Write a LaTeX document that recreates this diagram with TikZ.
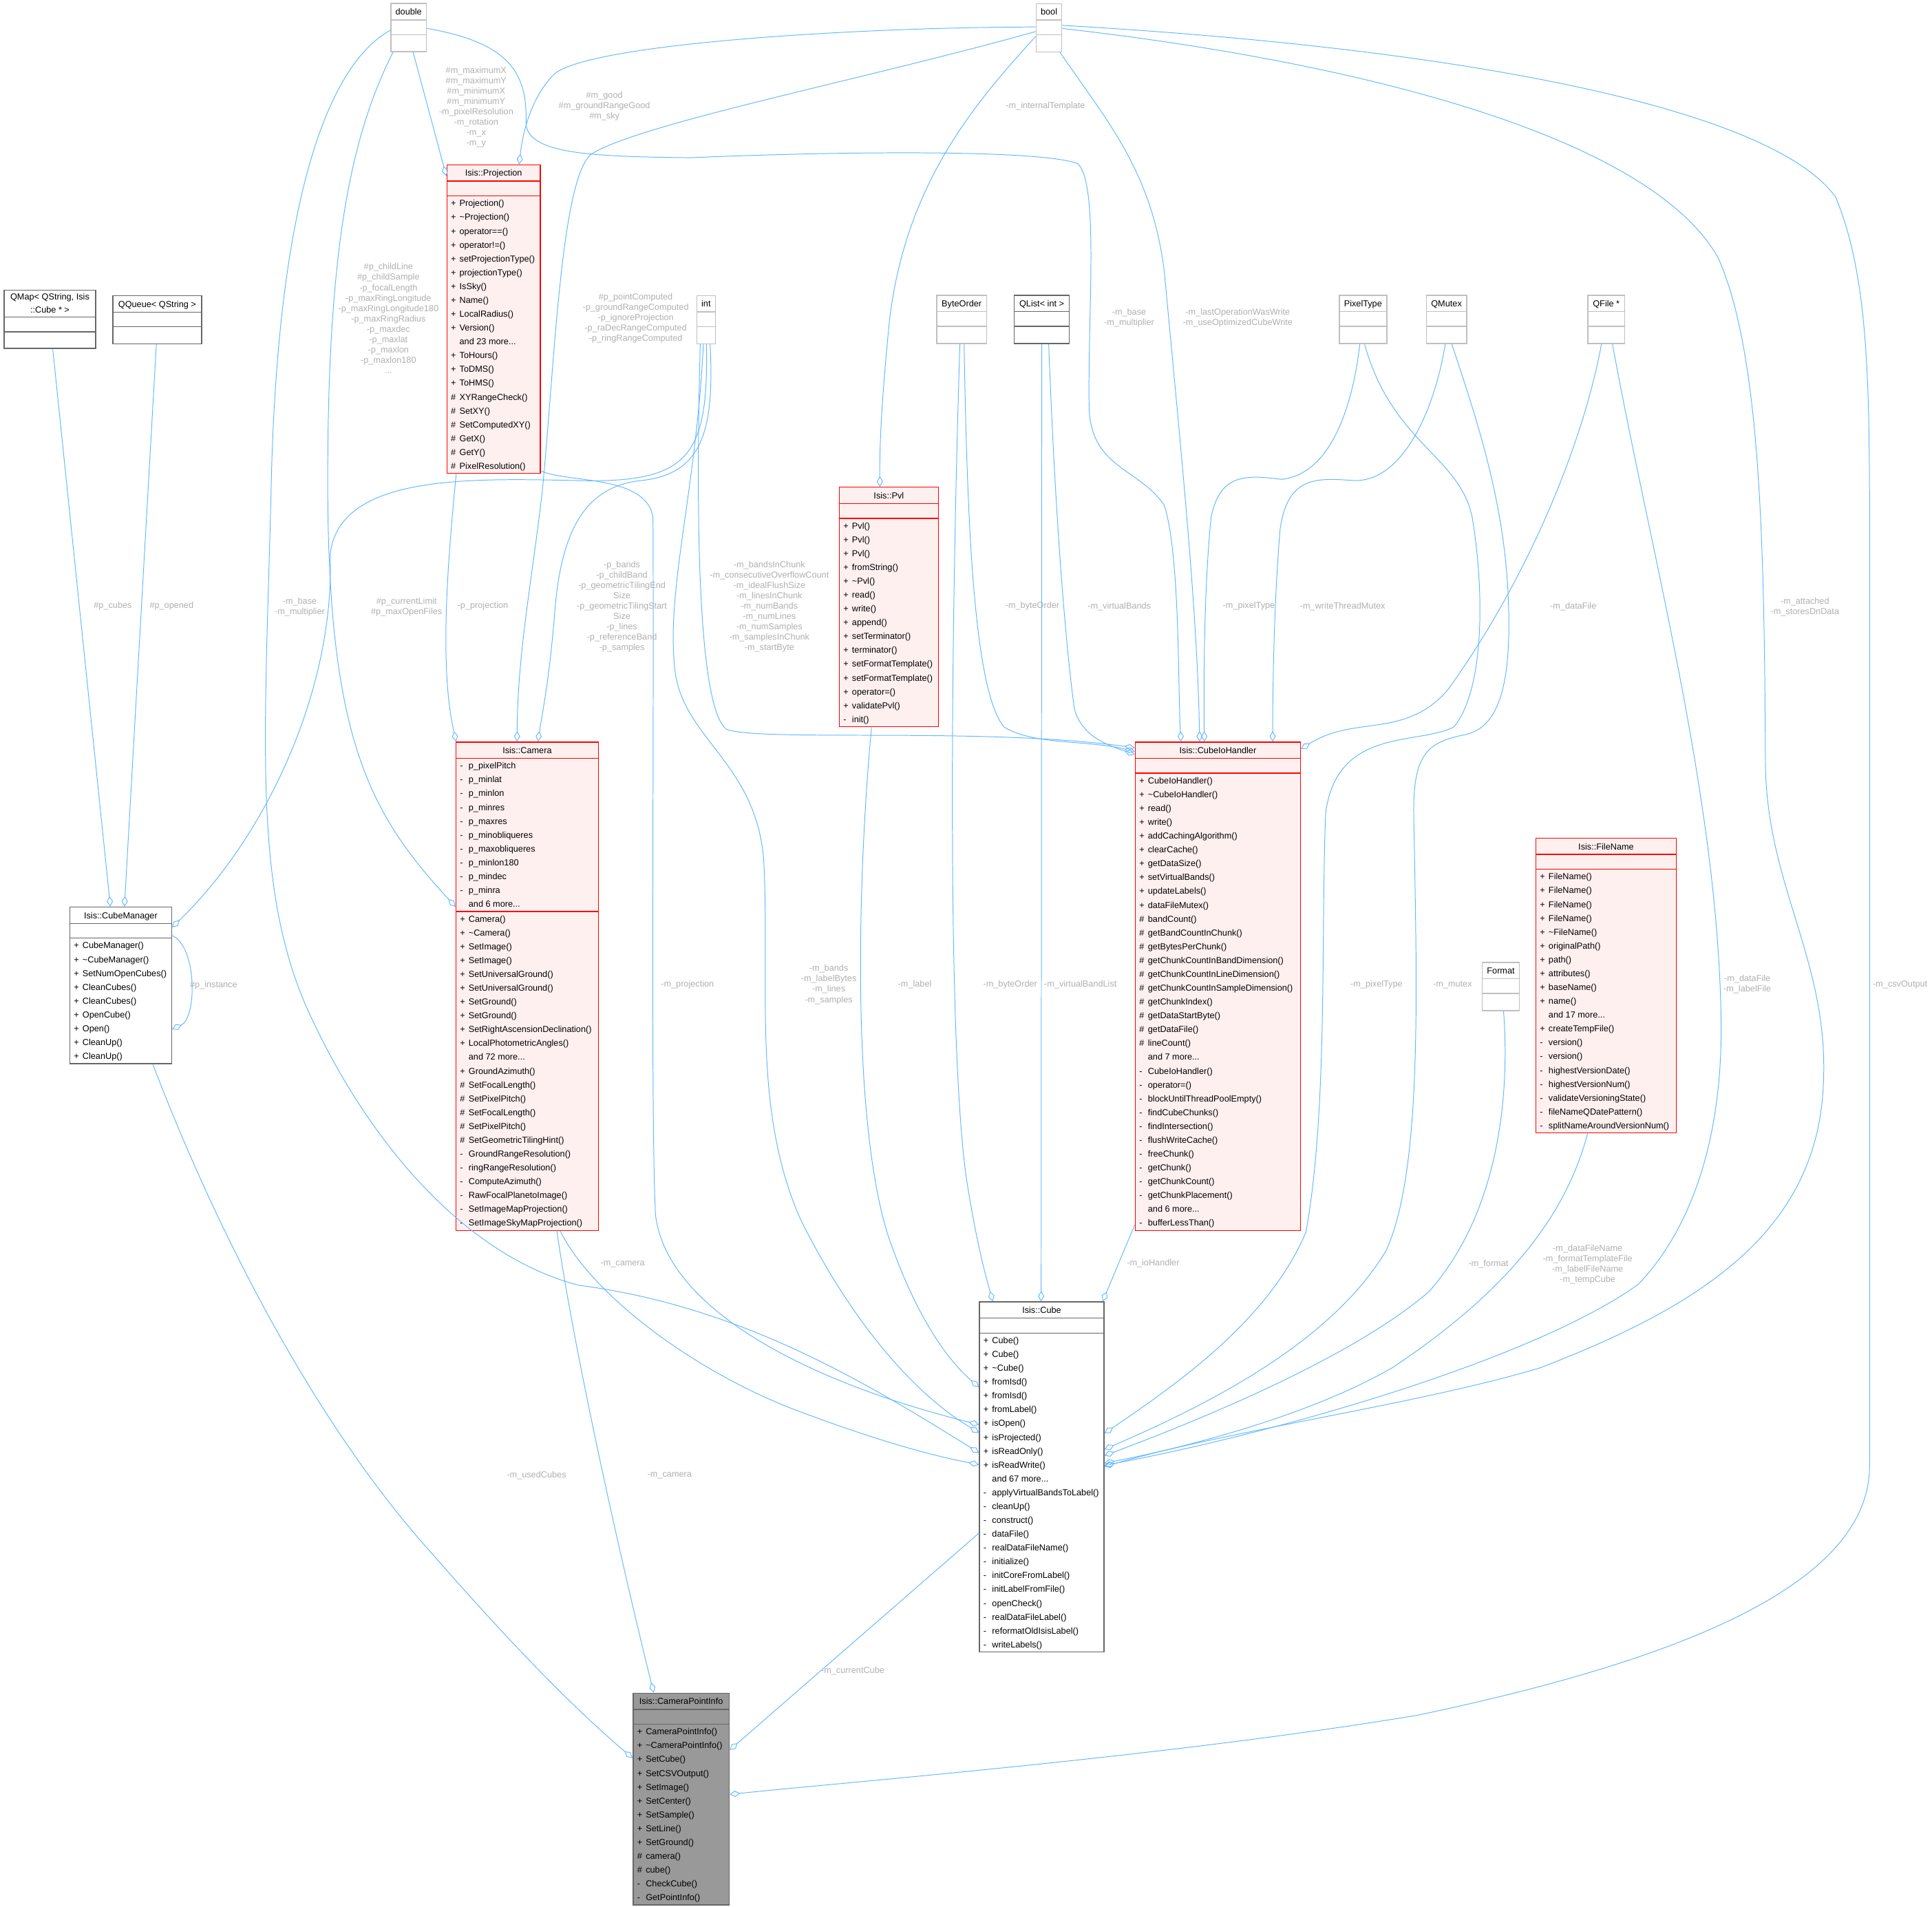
\documentclass[tikz,border=0pt]{standalone}
\usepackage{fontspec}
\setmainfont{Liberation Sans}
\usetikzlibrary{shapes.multipart,arrows.meta,calc}
\hfuzz=20pt
\definecolor{edgeblue}{HTML}{63B8FF}
\definecolor{lblgray}{HTML}{B0B0B0}
\definecolor{clsfill}{HTML}{FFF0F0}
\definecolor{grayforty}{HTML}{666666}
\definecolor{greyseventyfive}{HTML}{BFBFBF}
\definecolor{cpifill}{HTML}{999999}
\newcommand\rs{\rule[-3.12pt]{0pt}{11.22pt}}
\newcommand\ttl[1]{\rule[-3.6pt]{0pt}{12.4pt}#1}
\newcommand\mm[2]{\hbox{\rs\makebox[7pt][l]{#1}#2}}
\newcommand\ml[1]{\vbox{\offinterlineskip#1}}
\newcommand\lastrow{\rule[-4pt]{0pt}{13pt}}
\tikzset{
  cls/.style={rectangle split, rectangle split parts=3,
    rectangle split part align={center,left,left},
    draw=red, fill=clsfill, line width=0.8pt, inner xsep=3.3pt, inner ysep=0pt,
    font=\fontsize{7.1}{11.22}\selectfont, anchor=north west},
  extcls/.style={cls, draw=grayforty, fill=white},
  basic/.style={cls, draw=greyseventyfive, fill=white},
  cpicls/.style={cls, draw=grayforty, fill=cpifill},
  assoc/.style={draw=edgeblue, line width=0.55pt, -{Diamond[open,length=8.5pt,width=5pt]}},
  lbl/.style={text=lblgray, font=\fontsize{7.1}{8.4}\selectfont, align=center, inner sep=0pt}
}
\begin{document}
\begin{tikzpicture}[x=1pt,y=-1pt]
\path[use as bounding box, fill=white] (0,0) rectangle (1568.2,1547.5);

\node[basic, minimum width=28.6pt] (dbl) at (317,2.5) {\ttl{double}\nodepart{second}\rs\nodepart{third}\lastrow};
\node[basic, minimum width=20.9pt] (boolT) at (840.6,2.6) {\ttl{bool}\nodepart{second}\rs\nodepart{third}\lastrow};
\node[basic, minimum width=15.2pt] (intT) at (565.1,239.5) {\ttl{int}\nodepart{second}\rs\nodepart{third}\lastrow};
\node[basic, minimum width=40.3pt] (byteorder) at (760,239.3) {\ttl{ByteOrder}\nodepart{second}\rs\nodepart{third}\lastrow};
\node[extcls, minimum width=44.6pt] (qlist) at (822.9,239.3) {\ttl{QList< int >}\nodepart{second}\rs\nodepart{third}\lastrow};
\node[basic, minimum width=38.5pt] (pixeltype) at (1086.7,239.3) {\ttl{PixelType}\nodepart{second}\rs\nodepart{third}\lastrow};
\node[basic, minimum width=32.6pt] (qmutex) at (1157.4,239.3) {\ttl{QMutex}\nodepart{second}\rs\nodepart{third}\lastrow};
\node[basic, minimum width=30pt] (qfile) at (1288.4,239.3) {\ttl{QFile *}\nodepart{second}\rs\nodepart{third}\lastrow};
\node[basic, minimum width=30.2pt] (format) at (1202.7,780.6) {\ttl{Format}\nodepart{second}\rs\nodepart{third}\lastrow};
\node[extcls, minimum width=74.4pt] (qmap) at (2.9,235) {{\def\arraystretch{0.936}\begin{tabular}{@{}c@{}}QMap< QString, Isis\\::Cube * >\end{tabular}}\nodepart{second}\rs\nodepart{third}\rule[-4pt]{0pt}{12.6pt}};
\node[extcls, minimum width=72pt] (qqueue) at (91.2,239.6) {\ttl{QQueue< QString >}\nodepart{second}\rs\nodepart{third}\lastrow};

\node[cls, minimum width=75.9pt] (proj) at (362.3,133.4) {\ttl{Isis::Projection}\nodepart{second}\rs\nodepart{third}\ml{%
\mm{+}{Projection()}\mm{+}{\textasciitilde{}Projection()}\mm{+}{operator==()}\mm{+}{operator!=()}%
\mm{+}{setProjectionType()}\mm{+}{projectionType()}\mm{+}{IsSky()}\mm{+}{Name()}%
\mm{+}{LocalRadius()}\mm{+}{Version()}\mm{}{and 23 more...}\mm{+}{ToHours()}%
\mm{+}{ToDMS()}\mm{+}{ToHMS()}\mm{\#}{XYRangeCheck()}\mm{\#}{SetXY()}%
\mm{\#}{SetComputedXY()}\mm{\#}{GetX()}\mm{\#}{GetY()}\mm{\#}{PixelResolution()}}};

\node[cls, minimum width=115.6pt] (camera) at (369.7,601.8) {\ttl{Isis::Camera}\nodepart{second}\ml{%
\mm{-}{p\_pixelPitch}\mm{-}{p\_minlat}\mm{-}{p\_minlon}\mm{-}{p\_minres}\mm{-}{p\_maxres}%
\mm{-}{p\_minobliqueres}\mm{-}{p\_maxobliqueres}\mm{-}{p\_minlon180}\mm{-}{p\_mindec}%
\mm{-}{p\_minra}\mm{}{and 6 more...}}\nodepart{third}\ml{%
\mm{+}{Camera()}\mm{+}{\textasciitilde{}Camera()}\mm{+}{SetImage()}\mm{+}{SetImage()}%
\mm{+}{SetUniversalGround()}\mm{+}{SetUniversalGround()}\mm{+}{SetGround()}\mm{+}{SetGround()}%
\mm{+}{SetRightAscensionDeclination()}\mm{+}{LocalPhotometricAngles()}\mm{}{and 72 more...}%
\mm{+}{GroundAzimuth()}\mm{\#}{SetFocalLength()}\mm{\#}{SetPixelPitch()}\mm{\#}{SetFocalLength()}%
\mm{\#}{SetPixelPitch()}\mm{\#}{SetGeometricTilingHint()}\mm{-}{GroundRangeResolution()}%
\mm{-}{ringRangeResolution()}\mm{-}{ComputeAzimuth()}\mm{-}{RawFocalPlanetoImage()}%
\mm{-}{SetImageMapProjection()}\mm{-}{SetImageSkyMapProjection()}}};

\node[extcls, minimum width=82.6pt] (cubemgr) at (56.3,735.7) {\ttl{Isis::CubeManager}\nodepart{second}\rs\nodepart{third}\ml{%
\mm{+}{CubeManager()}\mm{+}{\textasciitilde{}CubeManager()}\mm{+}{SetNumOpenCubes()}\mm{+}{CleanCubes()}%
\mm{+}{CleanCubes()}\mm{+}{OpenCube()}\mm{+}{Open()}\mm{+}{CleanUp()}\mm{+}{CleanUp()}}};

\node[cls, minimum width=80.3pt] (pvl) at (680.9,395) {\ttl{Isis::Pvl}\nodepart{second}\rs\nodepart{third}\ml{%
\mm{+}{Pvl()}\mm{+}{Pvl()}\mm{+}{Pvl()}\mm{+}{fromString()}\mm{+}{\textasciitilde{}Pvl()}\mm{+}{read()}%
\mm{+}{write()}\mm{+}{append()}\mm{+}{setTerminator()}\mm{+}{terminator()}\mm{+}{setFormatTemplate()}%
\mm{+}{setFormatTemplate()}\mm{+}{operator=()}\mm{+}{validatePvl()}\mm{-}{init()}}};

\node[cls, minimum width=134.1pt] (ioh) at (921.1,601.8) {\ttl{Isis::CubeIoHandler}\nodepart{second}\rs\nodepart{third}\ml{%
\mm{+}{CubeIoHandler()}\mm{+}{\textasciitilde{}CubeIoHandler()}\mm{+}{read()}\mm{+}{write()}%
\mm{+}{addCachingAlgorithm()}\mm{+}{clearCache()}\mm{+}{getDataSize()}\mm{+}{setVirtualBands()}%
\mm{+}{updateLabels()}\mm{+}{dataFileMutex()}\mm{\#}{bandCount()}\mm{\#}{getBandCountInChunk()}%
\mm{\#}{getBytesPerChunk()}\mm{\#}{getChunkCountInBandDimension()}\mm{\#}{getChunkCountInLineDimension()}%
\mm{\#}{getChunkCountInSampleDimension()}\mm{\#}{getChunkIndex()}\mm{\#}{getDataStartByte()}%
\mm{\#}{getDataFile()}\mm{\#}{lineCount()}\mm{}{and 7 more...}\mm{-}{CubeIoHandler()}%
\mm{-}{operator=()}\mm{-}{blockUntilThreadPoolEmpty()}\mm{-}{findCubeChunks()}\mm{-}{findIntersection()}%
\mm{-}{flushWriteCache()}\mm{-}{freeChunk()}\mm{-}{getChunk()}\mm{-}{getChunkCount()}%
\mm{-}{getChunkPlacement()}\mm{}{and 6 more...}\mm{-}{bufferLessThan()}}};

\node[cls, minimum width=113.9pt] (filename) at (1246.3,679.8) {\ttl{Isis::FileName}\nodepart{second}\rs\nodepart{third}\ml{%
\mm{+}{FileName()}\mm{+}{FileName()}\mm{+}{FileName()}\mm{+}{FileName()}\mm{+}{\textasciitilde{}FileName()}%
\mm{+}{originalPath()}\mm{+}{path()}\mm{+}{attributes()}\mm{+}{baseName()}\mm{+}{name()}%
\mm{}{and 17 more...}\mm{+}{createTempFile()}\mm{-}{version()}\mm{-}{version()}%
\mm{-}{highestVersionDate()}\mm{-}{highestVersionNum()}\mm{-}{validateVersioningState()}%
\mm{-}{fileNameQDatePattern()}\mm{-}{splitNameAroundVersionNum()}}};

\node[extcls, minimum width=101.1pt] (cube) at (794.6,1056.1) {\ttl{Isis::Cube}\nodepart{second}\rs\nodepart{third}\ml{%
\mm{+}{Cube()}\mm{+}{Cube()}\mm{+}{\textasciitilde{}Cube()}\mm{+}{fromIsd()}\mm{+}{fromIsd()}%
\mm{+}{fromLabel()}\mm{+}{isOpen()}\mm{+}{isProjected()}\mm{+}{isReadOnly()}\mm{+}{isReadWrite()}%
\mm{}{and 67 more...}\mm{-}{applyVirtualBandsToLabel()}\mm{-}{cleanUp()}\mm{-}{construct()}%
\mm{-}{dataFile()}\mm{-}{realDataFileName()}\mm{-}{initialize()}\mm{-}{initCoreFromLabel()}%
\mm{-}{initLabelFromFile()}\mm{-}{openCheck()}\mm{-}{realDataFileLabel()}%
\mm{-}{reformatOldIsisLabel()}\mm{-}{writeLabels()}}};

\node[cpicls, minimum width=78pt] (cpi) at (513.5,1373.6) {\ttl{Isis::CameraPointInfo}\nodepart{second}\rs\nodepart{third}\ml{%
\mm{+}{CameraPointInfo()}\mm{+}{\textasciitilde{}CameraPointInfo()}\mm{+}{SetCube()}\mm{+}{SetCSVOutput()}%
\mm{+}{SetImage()}\mm{+}{SetCenter()}\mm{+}{SetSample()}\mm{+}{SetLine()}\mm{+}{SetGround()}%
\mm{\#}{camera()}\mm{\#}{cube()}\mm{-}{CheckCube()}\mm{-}{GetPointInfo()}}};

\draw[assoc] ($(qmap.south)+(2.3,0)$) -- ($(cubemgr.north west)+(33.3,0)$);
\draw[assoc] ($(qqueue.south)+(-0.7,0)$) -- ($(cubemgr.north west)+(44.7,0)$);
\draw[assoc] ($(cubemgr.north east)+(0,23.5)$) .. controls (160,768) and (160,826) .. ($(cubemgr.north east)+(0,99.5)$);
\draw[assoc] ($(intT.south)+(0.3,0)$) .. controls (575,370) and (560,392) .. (470,390) .. controls (380,388) and (275,385) .. (268,450) .. controls (272,560) and (215,680) .. ($(cubemgr.north east)+(0,16.8)$);
\draw[assoc] ($(dbl.south)+(3.6,0)$) -- ($(proj.north west)+(0,9.5)$);
\draw[assoc] ($(boolT.north west)+(0,19.3)$) .. controls (700,22) and (480,35) .. (450,60) .. controls (430,80) and (424,110) .. ($(proj.north west)+(59.1,0)$);
\draw[assoc] ($(dbl.south west)+(2,0)$) .. controls (285,110) and (266,200) .. (266,390) .. controls (266,600) and (300,660) .. ($(camera.north west)+(0,134)$);
\draw[assoc] ($(boolT.north west)+(0,23)$) .. controls (700,65) and (520,100) .. (480,125) .. controls (455,145) and (450,300) .. (440,400) .. controls (432,470) and (420,530) .. ($(camera.north west)+(50,0)$);
\draw[assoc] ($(proj.south west)+(8,0)$) .. controls (364,450) and (356,540) .. ($(camera.north west)+(0.6,0)$);
\draw[assoc] ($(intT.south)+(3.3,0)$) .. controls (580,350) and (570,385) .. (520,390) .. controls (475,395) and (455,430) .. (450,500) .. controls (446,550) and (440,580) .. ($(camera.north west)+(66.9,0)$);
\draw[assoc] ($(intT.south)+(-4.7,0)$) .. controls (565,400) and (565,575) .. (590,592) .. controls (620,602) and (800,590) .. ($(ioh.north west)+(0,5)$);
\draw[assoc] ($(boolT.north west)+(0,27)$) .. controls (790,85) and (735,150) .. (722,260) .. controls (716,320) and (713.8,360) .. ($(pvl.north)+(-7.25,0)$);
\draw[assoc] ($(dbl.north east)+(0,20.5)$) .. controls (415,35) and (428,60) .. (427,100) .. controls (428,125) and (480,127) .. (560,128) .. controls (700,122) and (850,122) .. (875,133) .. controls (892,150) and (883,250) .. (884,330) .. controls (885,380) and (925,380) .. (945,410) .. controls (958,450) and (956,560) .. ($(ioh.north west)+(37.5,0)$);
\draw[assoc] ($(boolT.south east)+(-2,0)$) .. controls (900,100) and (935,140) .. (945,220) .. controls (960,380) and (972,500) .. ($(ioh.north west)+(52.6,0)$);
\draw[assoc] ($(byteorder.south)+(2,0)$) .. controls (785,420) and (790,560) .. (815,590) .. controls (840,605) and (880,600) .. ($(ioh.north west)+(0,8)$);
\draw[assoc] ($(qlist.south)+(5.6,0)$) .. controls (855,380) and (862,500) .. (872,575) .. controls (878,598) and (900,605) .. ($(ioh.north west)+(0,10.5)$);
\draw[assoc] (qlist.south) -- ($(cube.north west)+(50.5,0)$);
\draw[assoc] ($(pixeltype.south)+(-2.6,0)$) .. controls (1098,330) and (1080,385) .. (1040,389) .. controls (1010,385) and (990,385) .. (983,420) .. controls (977,480) and (977,560) .. ($(ioh.north west)+(56.4,0)$);
\draw[assoc] ($(pixeltype.south)+(1.2,0)$) .. controls (1130,360) and (1185,370) .. (1195,420) .. controls (1205,480) and (1205,560) .. (1180,590) .. controls (1150,605) and (1085,590) .. (1076,660) .. controls (1072,760) and (1078,900) .. (1060,1000) .. controls (1030,1070) and (960,1120) .. ($(cube.north east)+(0,107)$);
\draw[assoc] ($(qmutex.south)+(-1,0)$) .. controls (1165,330) and (1140,390) .. (1100,390) .. controls (1070,388) and (1045,385) .. (1039,430) .. controls (1034,490) and (1033,560) .. ($(ioh.north west)+(111.9,0)$);
\draw[assoc] ($(qmutex.south)+(4.3,0)$) .. controls (1195,330) and (1220,400) .. (1224,480) .. controls (1228,560) and (1215,590) .. (1190,596) .. controls (1160,602) and (1147,610) .. (1147.5,660) .. controls (1150,800) and (1155,950) .. (1125,1015) .. controls (1080,1090) and (980,1140) .. ($(cube.north east)+(0,120)$);
\draw[assoc] ($(qfile.south)+(-3.9,0)$) .. controls (1285,360) and (1240,470) .. (1175,560) .. controls (1140,600) and (1100,580) .. ($(ioh.north east)+(0,6)$);
\draw[assoc] ($(qfile.south)+(5,0)$) .. controls (1340,450) and (1395,650) .. (1397,830) .. controls (1398,930) and (1370,1000) .. (1330,1042) .. controls (1250,1100) and (1050,1160) .. ($(cube.north east)+(0,133)$);
\draw[assoc] ($(boolT.north east)+(0,20.5)$) .. controls (1100,50) and (1340,110) .. (1395,210) .. controls (1430,290) and (1432,450) .. (1433,620) .. controls (1434,720) and (1485,780) .. (1480,880) .. controls (1475,1000) and (1380,1060) .. (1250,1110) .. controls (1150,1140) and (1000,1160) .. ($(cube.north east)+(0,134)$);
\draw[assoc] ($(boolT.north east)+(0,18)$) .. controls (1200,40) and (1440,90) .. (1490,160) .. controls (1515,220) and (1517,300) .. (1517.5,400) -- (1517.5,1190) .. controls (1517,1290) and (1350,1350) .. (1150,1392) .. controls (950,1425) and (700,1445) .. ($(cpi.north east)+(0,82.5)$);
\draw[assoc] ($(dbl.north west)+(0,22)$) .. controls (270,50) and (225,150) .. (220,400) .. controls (215,600) and (205,720) .. (250,820) .. controls (300,930) and (380,1020) .. (470,1043) .. controls (600,1060) and (700,1120) .. ($(cube.north west)+(0,122.8)$);
\draw[assoc] ($(proj.south east)+(0,-2.5)$) .. controls (460,392) and (525,385) .. (530,420) .. controls (531,600) and (528,900) .. (532,985) .. controls (540,1060) and (650,1120) .. ($(cube.north west)+(0,100)$);
\draw[assoc] ($(intT.south)+(-2.2,0)$) .. controls (565,400) and (540,480) .. (548,545) .. controls (555,600) and (615,620) .. (620,700) .. controls (625,800) and (610,900) .. (650,990) .. controls (690,1070) and (740,1130) .. ($(cube.north west)+(0,106.4)$);
\draw[assoc] ($(pvl.south)+(-14,0)$) .. controls (697,700) and (690,900) .. (720,1000) .. controls (740,1060) and (765,1100) .. ($(cube.north west)+(0,69.6)$);
\draw[assoc] ($(byteorder.south)+(-1.4,0)$) .. controls (772,500) and (768,850) .. (785,960) .. controls (793,1010) and (800,1035) .. ($(cube.north west)+(11.2,0)$);
\draw[assoc] ($(camera.south west)+(85,0)$) .. controls (480,1050) and (560,1110) .. (640,1142) .. controls (700,1165) and (750,1180) .. ($(cube.north west)+(0,132.4)$);
\draw[assoc] ($(ioh.south west)+(0,-5)$) -- ($(cube.north east)+(-1.5,0)$);
\draw[assoc] ($(format.south)+(2.2,0)$) .. controls (1225,880) and (1220,980) .. (1160,1048) .. controls (1100,1100) and (980,1150) .. ($(cube.north east)+(0,125.1)$);
\draw[assoc] ($(filename.south)+(-15,0)$) .. controls (1270,990) and (1220,1050) .. (1130,1110) .. controls (1060,1150) and (960,1175) .. ($(cube.north east)+(0,131.2)$);
\draw[assoc] ($(cubemgr.south west)+(67.7,0)$) .. controls (180,1010) and (260,1160) .. (350,1260) .. controls (420,1340) and (470,1390) .. ($(cpi.north west)+(0,53)$);
\draw[assoc] ($(camera.south west)+(82.3,0)$) .. controls (465,1090) and (500,1250) .. ($(cpi.north west)+(17.1,0)$);
\draw[assoc] ($(cube.north west)+(0,188)$) -- ($(cpi.north east)+(0,46.5)$);

\node[lbl] (lcubes) at (91.6,492) {\#p\_cubes};
\node[lbl] (lopened) at (139.3,492) {\#p\_opened};
\node[lbl] (linstance) at (173.4,799.3) {\#p\_instance};
\node[lbl] (llimit) at (330,492.4) {\#p\_currentLimit\\\#p\_maxOpenFiles};
\node[lbl] (lprojd) at (386.5,86.8) {\#m\_maximumX\\\#m\_maximumY\\\#m\_minimumX\\\#m\_minimumY\\-m\_pixelResolution\\-m\_rotation\\-m\_x\\-m\_y};
\node[lbl] (lprojb) at (490.6,86.4) {\#m\_good\\\#m\_groundRangeGood\\\#m\_sky};
\node[lbl] (lcamd) at (315.3,258.4) {\#p\_childLine\\\#p\_childSample\\-p\_focalLength\\-p\_maxRingLongitude\\-p\_maxRingLongitude180\\-p\_maxRingRadius\\-p\_maxdec\\-p\_maxlat\\-p\_maxlon\\-p\_maxlon180\\...};
\node[lbl] (lcamb) at (516,258) {\#p\_pointComputed\\-p\_groundRangeComputed\\-p\_ignoreProjection\\-p\_raDecRangeComputed\\-p\_ringRangeComputed};
\node[lbl] (lcamp) at (391.9,492) {-p\_projection};
\node[lbl] (lcami) at (504.8,492.2) {-p\_bands\\-p\_childBand\\-p\_geometricTilingEnd\\Size\\-p\_geometricTilingStart\\Size\\-p\_lines\\-p\_referenceBand\\-p\_samples};
\node[lbl] (liohi) at (624.5,492.2) {-m\_bandsInChunk\\-m\_consecutiveOverflowCount\\-m\_idealFlushSize\\-m\_linesInChunk\\-m\_numBands\\-m\_numLines\\-m\_numSamples\\-m\_samplesInChunk\\-m\_startByte};
\node[lbl] (lpvlb) at (848.6,86.4) {-m\_internalTemplate};
\node[lbl] (liohd) at (916.5,258.2) {-m\_base\\-m\_multiplier};
\node[lbl] (liohb) at (1004.7,258.2) {-m\_lastOperationWasWrite\\-m\_useOptimizedCubeWrite};
\node[lbl] (liohbo) at (838,492) {-m\_byteOrder};
\node[lbl] (liohql) at (908.5,492) {-m\_virtualBands};
\node[lbl] (liohpt) at (1013.7,492) {-m\_pixelType};
\node[lbl] (liohqm) at (1089.8,492) {-m\_writeThreadMutex};
\node[lbl] (liohqf) at (1277,492) {-m\_dataFile};
\node[lbl] (lcubeb) at (1465,492.4) {-m\_attached\\-m\_storesDnData};
\node[lbl] (lcubed) at (243.3,492.4) {-m\_base\\-m\_multiplier};
\node[lbl] (lcubep) at (558,799) {-m\_projection};
\node[lbl] (lcubei) at (672.7,799) {-m\_bands\\-m\_labelBytes\\-m\_lines\\-m\_samples};
\node[lbl] (lcubepvl) at (742.5,799) {-m\_label};
\node[lbl] (lcubebo) at (820,799) {-m\_byteOrder};
\node[lbl] (lcubeql) at (877,799) {-m\_virtualBandList};
\node[lbl] (lcubept) at (1117.3,799) {-m\_pixelType};
\node[lbl] (lcubeqm) at (1179,799) {-m\_mutex};
\node[lbl] (lcubeqf) at (1418.3,798.6) {-m\_dataFile\\-m\_labelFile};
\node[lbl] (lcpib) at (1542.3,799) {-m\_csvOutput};
\node[lbl] (lcubecam) at (505.4,1025.7) {-m\_camera};
\node[lbl] (lcubeioh) at (936,1025) {-m\_ioHandler};
\node[lbl] (lcubefmt) at (1208.1,1025.6) {-m\_format};
\node[lbl] (lcubefn) at (1288.7,1026) {-m\_dataFileName\\-m\_formatTemplateFile\\-m\_labelFileName\\-m\_tempCube};
\node[lbl] (lcpicm) at (435.5,1197.5) {-m\_usedCubes};
\node[lbl] (lcpicam) at (543.5,1197.5) {-m\_camera};
\node[lbl] (lcpicube) at (692.2,1356.2) {-m\_currentCube};
\end{tikzpicture}
\end{document}
